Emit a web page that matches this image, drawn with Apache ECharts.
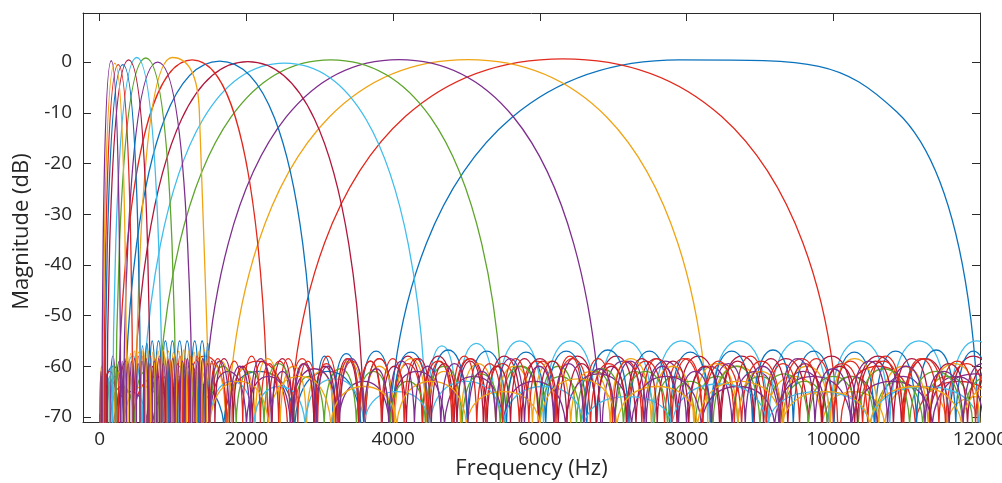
<!DOCTYPE html>
<html>
<head>
<meta charset="utf-8">
<script src="https://cdn.jsdelivr.net/npm/echarts@6/dist/echarts.min.js"></script>
<style>
  html, body { margin: 0; padding: 0; background: #ffffff; }
  #chart { width: 1002px; height: 483px; }
</style>
</head>
<body>
<div id="chart"></div>
<script>
// One-third-octave filter bank: magnitude response of each band filter.
// Bands are listed from the highest centre frequency down (drawing order).
const bandHz = [8000, 6300, 5000, 4000, 3150, 2500, 2000, 1600, 1250,
                1000, 800, 630, 500, 400, 315, 250, 200, 160];
const palette = ['#0b72bd', '#e2291d', '#f0a414', '#7e2f8e', '#5ea52c', '#40bdec', '#b1173a'];
const xTicks = [0, 2000, 4000, 6000, 8000, 10000, 12000];
const yTicks = [-70, -60, -50, -40, -30, -20, -10, 0];

// Main lobes: [frequency Hz, magnitude dB] - lower edge, peak, (shoulder), upper edge
const main8000 = [[3960,-72],[7900,0.45],[10864,-9.8],[11975,-72]];
const main6300 = [[2600,-72],[6318,0.65],[10060,-72]];
const main5000 = [[1750,-72],[5020,0.5],[8290,-72]];
const main4000 = [[1420,-72],[4080,0.5],[6830,-72]];
const main3150 = [[790,-72],[3150,0.45],[5500,-72]];
const main2500 = [[580,-72],[2520,-0.2],[4450,-72]];
const main2000 = [[460,-72],[2020,0.1],[3600,-72]];
const main1600 = [[340,-72],[1636,0.2],[2930,-72]];
const main1250 = [[250,-72],[1260,0.45],[2290,-72]];
const main1000 = [[495,-72],[988,0.9],[1358,-9.8],[1497,-72]];
const main800 = [[325,-72],[790,0],[1258,-72]];
const main630 = [[219,-72],[628,0.8],[1036,-72]];
const main500 = [[178,-72],[505,0.9],[854,-72]];
const main400 = [[99,-72],[394,0.45],[688,-72]];
const main315 = [[73,-72],[315,-0.5],[556,-72]];
const main250 = [[58,-72],[252,-0.5],[450,-72]];
const main200 = [[43,-72],[205,-0.2],[366,-72]];
const main160 = [[31,-72],[157,0.26],[286,-72]];

// Stopband side lobes: nulls (Hz) bounding each lobe, and each lobe's peak (dB).
// A null peak marks the gap taken by the main lobe.
const nulls8000 = [720, 1690, 2660, 3560];
const peaks8000 = [-63, -61, -61];
const nulls6300 = [450, 1130, 1740, 2560, 10100, 11120, 12300];
const peaks6300 = [-62, -58, -59, null, -60, -63];
const nulls5000 = [330, 860, 1340, 1720, 8320, 9080, 9850, 10700, 11550, 12400];
const peaks5000 = [-64, -62, -59.5, null, -60, -62, -65, -64, -66];
const nulls4000 = [190, 640, 1060, 1400, 6850, 7420, 8000, 8620, 9260, 9920, 10600, 11300, 12050];
const peaks4000 = [-65, -62, -60, null, -59, -59, -60, -61, -61, -62, -62, -62];
const nulls3150 = [140, 470, 780, 5520, 6000, 6500, 7020, 7560, 8120, 8700, 9300, 9920, 10560, 11220, 11900];
const peaks3150 = [-64, -61, null, -60, -60, -61, -61, -62, -62, -62, -63, -62, -63, -62];
const nulls2500 = [90, 330, 570, 4460, 4870, 5400, 6050, 6780, 7545, 8315, 9120, 9950, 10770, 11565, 12335];
const peaks2500 = [-62, -58, null, -56, -55.5, -55, -55, -55, -55, -55, -55, -55, -55, -55];
const nulls2000 = [60, 260, 455, 3620, 4000, 4400, 4830, 5280, 5750, 6250, 6770, 7310, 7870, 8450, 9050, 9660, 10290, 10930, 11580, 12240];
const peaks2000 = [-63, -59, null, -58.5, -58, -58, -58.5, -58, -58.5, -58, -58, -58.5, -58, -58, -58.5, -58, -58, -58.5, -58];
const nulls1600 = [40, 330, 2950, 3180, 3545, 3990, 4490, 5010, 5545, 6080, 6640, 7215, 7770, 8330, 8900, 9455, 10010, 10565, 11135, 11670, 12150];
const peaks1600 = [-60, null, -58, -57.5, -57, -57.2, -56.8, -57, -57.2, -57, -56.8, -57, -57.2, -57, -56.8, -57, -57.2, -57, -56.8, -57];
const nulls1250 = [30, 240, 2300, 2600, 2920, 3260, 3620, 4000, 4400, 4820, 5260, 5720, 6200, 6690, 7190, 7700, 8220, 8750, 9290, 9840, 10400, 10960, 11530, 12100];
const peaks1250 = [-61, null, -59, -58.5, -59.5, -59, -58.5, -59.5, -59, -58.5, -59.5, -59, -58.5, -59.5, -59, -58.5, -59.5, -59, -58.5, -59.5, -59, -58.5, -59.5];
const nulls1000 = [90, 211, 332, 445, 1500, 1800, 2120, 2460, 2820, 3200, 3600, 4020, 4460, 4920,
                   5400, 5900, 6420, 6960, 7520, 8100, 8700, 9320, 9960, 10620, 11300, 12000];
const peaks1000 = [-63, -61, -61, null, -59, -60.5, -58.5, -60, -61, -59, -60, -58.5, -61, -59.5,
                   -60, -59, -61, -58.5, -60, -59.5, -61, -60, -58.5, -60, -59.5];
const nulls800 = [56, 141, 218, 320, 1262, 1390, 1500, 2000, 2600, 3250, 3950, 4700, 5500, 6350,
                  7250, 8200, 9200, 10250, 11350, 12500];
const peaks800 = [-62, -58, -59, null, -60, -63, -61, -62, -60.5, -63, -61, -62, -63, -61.5,
                  -62, -64, -62, -63, -61.5];
const nulls630 = [41, 108, 168, 215, 1040, 1135, 1231, 1338, 1444, 1500, 1860, 2240, 2640, 3060,
                  3500, 3960, 4440, 4940, 5460, 6000, 6560, 7140, 7740, 8360, 9000, 9660, 10340,
                  11040, 11760, 12500];
const peaks630 = [-64, -62, -59.5, null, -60, -62, -65, -64, -66, -60, -61, -59.5, -62, -60.5,
                  -61, -63, -60, -61.5, -60, -62, -60.5, -61, -63, -60, -61.5, -62, -60.5, -61, -62];
const nulls500 = [24, 80, 133, 175, 856, 928, 1000, 1078, 1158, 1240, 1325, 1413, 1500, 2100,
                  2800, 3600, 4500, 5500, 6600, 7800, 9100, 10500, 12000];
const peaks500 = [-65, -62, -60, null, -59, -59, -60, -61, -61, -62, -62, -62, -63, -64,
                  -62.5, -65, -63, -64, -66, -63.5, -65, -64];
const nulls400 = [18, 59, 97, 690, 750, 813, 878, 945, 1015, 1088, 1163, 1240, 1320, 1403, 1488,
                  1570, 1820, 2080, 2350, 2630, 2920, 3220, 3530, 3850, 4180, 4520, 4870, 5230,
                  5600, 5980, 6370, 6770, 7180, 7600, 8030, 8470, 8920, 9380, 9850, 10330, 10820,
                  11320, 11830, 12350];
const peaks400 = [-64, -61, null, -60, -60, -61, -61, -62, -62, -62, -63, -62, -63, -62,
                  -59, -58.5, -60, -59, -58.5, -59.5, -60, -58.5, -59, -60, -58.5, -59.5, -59,
                  -60, -58.5, -59, -59.5, -60, -58.5, -59, -60, -59, -58.5, -59.5, -60, -59,
                  -58.5, -59.5, -60];
const nulls315 = [11, 41, 71, 558, 609, 675, 756, 848, 943, 1039, 1140, 1244, 1346, 1446, 1500];
const peaks315 = [-62, -58, null, -56, -55.5, -55, -55, -55, -55, -55, -55, -55, -55, -55.5];
const nulls250 = [8, 33, 57, 453, 500, 550, 604, 660, 719, 781, 846, 914, 984, 1056, 1131, 1208,
                  1286, 1366, 1448, 1500, 1720, 1950, 2190, 2440, 2700, 2970, 3250, 3540, 3840,
                  4150, 4470, 4800, 5140, 5490, 5850, 6220, 6600, 6990, 7390, 7800, 8220, 8650,
                  9090, 9540, 10000, 10470, 10950, 11440, 11940, 12450];
const peaks250 = [-63, -59, null, -58.5, -58, -58, -58.5, -58, -58.5, -58, -58, -58.5, -58, -58,
                  -58.5, -58, -58, -58.5, -58,
                  -58.5, -59, -58, -59.5, -58.5, -59, -58, -58.5, -59, -58.5,
                  -58.5, -59, -58, -59.5, -58.5, -59, -58, -58.5, -59, -58.5,
                  -58.5, -59, -58, -59.5, -58.5, -59, -58, -58.5, -59, -58.5];
const nulls200 = [5, 41, 369, 398, 443, 499, 561, 626, 693, 760, 830, 902, 971, 1041, 1113, 1182,
                  1251, 1321, 1393, 1459, 1500, 2300, 3150, 4050, 5000, 6000, 7050, 8150, 9300,
                  10500, 11750, 13000];
const peaks200 = [-60, null, -58, -57.5, -57, -57.2, -56.8, -57, -57.2, -57, -56.8, -57, -57.2,
                  -57, -56.8, -57, -57.2, -57, -56.8, -57,
                  -63, -62, -64, -63, -65, -62.5, -64, -63, -65, -64, -63];
const nulls160 = [4, 30, 288, 325, 365, 408, 453, 500, 550, 603, 658, 715, 775, 836, 899, 963,
                  1028, 1094, 1161, 1230, 1300, 1370, 1441, 1500, 1770, 2050, 2340, 2640, 2950,
                  3270, 3600, 3940, 4290, 4650, 5020, 5400, 5790, 6190, 6600, 7020, 7450, 7890,
                  8340, 8800, 9270, 9750, 10240, 10740, 11250, 11770, 12300];
const peaks160 = [-61, null, -59, -58.5, -59.5, -59, -58.5, -59.5, -59, -58.5, -59.5, -59, -58.5,
                  -59.5, -59, -58.5, -59.5, -59, -58.5, -59.5, -59, -58.5, -59.5,
                  -59, -60, -58.5, -61, -59.5, -60, -58.5, -60.5, -59, -60,
                  -59.5, -61, -58.5, -60, -59.5, -60.5, -59, -60, -61, -59.5,
                  -60, -58.5, -60.5, -59, -60, -61, -59.5];

const bands = [
  [main8000, nulls8000, peaks8000], [main6300, nulls6300, peaks6300],
  [main5000, nulls5000, peaks5000], [main4000, nulls4000, peaks4000],
  [main3150, nulls3150, peaks3150], [main2500, nulls2500, peaks2500],
  [main2000, nulls2000, peaks2000], [main1600, nulls1600, peaks1600],
  [main1250, nulls1250, peaks1250], [main1000, nulls1000, peaks1000],
  [main800, nulls800, peaks800], [main630, nulls630, peaks630],
  [main500, nulls500, peaks500], [main400, nulls400, peaks400],
  [main315, nulls315, peaks315], [main250, nulls250, peaks250],
  [main200, nulls200, peaks200], [main160, nulls160, peaks160]
];

// Each side lobe is an arch rising from below the floor to its peak and back.
const FLOOR = -72;
function sideLobes(nulls, peaks) {
  const pts = [];
  for (let i = 0; i < peaks.length; i++) {
    if (peaks[i] === null) continue;
    const a = nulls[i], b = nulls[i + 1];
    pts.push([a, FLOOR], [(a + b) / 2, peaks[i]], [b, FLOOR], ['-', '-']);
  }
  return pts;
}

const series = [];
bands.forEach(function (b, i) {
  const color = palette[i % palette.length];
  const common = {
    type: 'line', showSymbol: false, symbol: 'none', silent: true,
    clip: true, animation: false, connectNulls: false, smooth: 1,
    lineStyle: { color: color, width: 1.3 }
  };
  series.push(Object.assign({ name: bandHz[i] + ' Hz stopband', data: sideLobes(b[1], b[2]) }, common));
  series.push(Object.assign({ name: bandHz[i] + ' Hz', data: b[0] }, common));
});

const font = "'Open Sans', 'DejaVu Sans', sans-serif";
const textColor = '#262626';
const frame = { show: true, onZero: false, lineStyle: { color: '#2b2b2b', width: 1 } };
const tickIn = { show: true, inside: true, length: 8, lineStyle: { color: '#2b2b2b', width: 1 } };

const chart = echarts.init(document.getElementById('chart'), null, { renderer: 'canvas' });
chart.setOption({
  backgroundColor: '#ffffff',
  animation: false,
  grid: { left: 83, right: 22, top: 13, bottom: 61, outerBoundsMode: 'none', containLabel: false },
  xAxis: [
    {
      type: 'value', min: -228, max: 12000, position: 'bottom',
      name: 'Frequency (Hz)', nameLocation: 'middle', nameGap: 36,
      nameTextStyle: { fontFamily: font, fontSize: 22, color: textColor },
      axisLine: frame,
      axisTick: Object.assign({ customValues: xTicks }, tickIn),
      axisLabel: { customValues: xTicks, fontFamily: font, fontSize: 19, color: textColor, margin: 8,
                   formatter: function (v) { return String(v); } },
      splitLine: { show: false }
    },
    {
      type: 'value', min: -228, max: 12000, position: 'top',
      axisLine: frame,
      axisTick: Object.assign({ customValues: xTicks }, tickIn),
      axisLabel: { show: false },
      splitLine: { show: false }
    }
  ],
  yAxis: [
    {
      type: 'value', min: -71, max: 9.68, position: 'left',
      name: 'Magnitude (dB)', nameLocation: 'middle', nameGap: 50,
      nameTextStyle: { fontFamily: font, fontSize: 22, color: textColor, padding: [0, 28, 0, 0] },
      axisLine: frame,
      axisTick: Object.assign({ customValues: yTicks }, tickIn),
      axisLabel: { customValues: yTicks, fontFamily: font, fontSize: 19, color: textColor, margin: 11 },
      splitLine: { show: false }
    },
    {
      type: 'value', min: -71, max: 9.68, position: 'right',
      axisLine: frame,
      axisTick: Object.assign({ customValues: yTicks }, tickIn),
      axisLabel: { show: false },
      splitLine: { show: false }
    }
  ],
  series: series
});
</script>
</body>
</html>
